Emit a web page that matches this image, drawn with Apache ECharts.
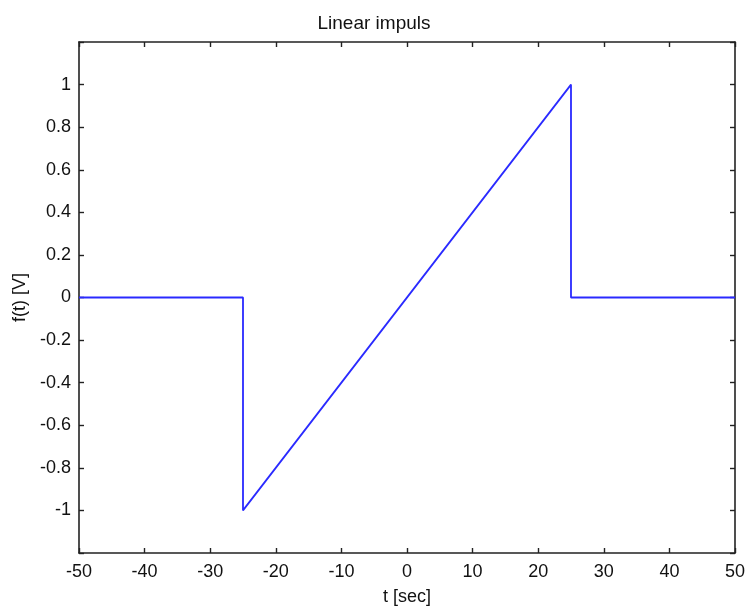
<!DOCTYPE html>
<html>
<head>
<meta charset="utf-8">
<script src="https://cdn.jsdelivr.net/npm/echarts@6/dist/echarts.min.js"></script>
<style>html,body{margin:0;padding:0;background:#fff;}#c{width:748px;height:611px;}</style>
</head>
<body>
<div id="c"></div>
<script>
const tValues = [-50, -25, -25, 25, 25, 50];
const fValues = [0, 0, -1, 1, 0, 0];
const xTicks = [-50, -40, -30, -20, -10, 0, 10, 20, 30, 40, 50];
const yTicks = [-1, -0.8, -0.6, -0.4, -0.2, 0, 0.2, 0.4, 0.6, 0.8, 1];

const FONT = 'Liberation Sans';
const chart = echarts.init(document.getElementById('c'));
const axisCommon = {
  axisLine: { show: true, onZero: false, lineStyle: { color: '#222', width: 1.6 } },
  axisTick: { show: true, inside: true, length: 5, lineStyle: { color: '#222', width: 1.4 } },
  splitLine: { show: false }
};
const xBase = Object.assign({ type: 'value', min: -50, max: 50, interval: 10 }, axisCommon);
const yBase = Object.assign({ type: 'value', min: -1.2, max: 1.2, interval: 0.2 }, axisCommon);
const fmtY = v => {
  const r = Math.round(v * 10) / 10;
  if (Math.abs(Math.abs(r) - 1.2) < 1e-6) return '';
  return yTicks.some(t => Math.abs(t - r) < 1e-6) ? String(r) : '';
};
chart.setOption({
  animation: false,
  backgroundColor: '#fff',
  title: {
    text: 'Linear impuls', left: 'center', top: 9,
    textStyle: { fontFamily: FONT, fontSize: 19, fontWeight: 'normal', color: '#111' }
  },
  grid: { left: 79, right: 12, top: 42, bottom: 51, containLabel: false },
  xAxis: [
    Object.assign({}, xBase, {
      position: 'bottom',
      name: 't [sec]', nameLocation: 'middle', nameGap: 35,
      nameTextStyle: { fontFamily: FONT, fontSize: 18, color: '#111' },
      axisLabel: { fontFamily: FONT, fontSize: 18, color: '#111', margin: 10,
        formatter: v => xTicks.includes(Math.round(v)) ? String(Math.round(v)) : '' }
    }),
    Object.assign({}, xBase, { position: 'top', axisLabel: { show: false } })
  ],
  yAxis: [
    Object.assign({}, yBase, {
      position: 'left',
      name: 'f(t) [V]', nameLocation: 'middle', nameGap: 46, nameRotate: 90,
      nameTextStyle: { fontFamily: FONT, fontSize: 18, color: '#111' },
      axisLabel: { fontFamily: FONT, fontSize: 18, color: '#111', margin: 8, formatter: fmtY }
    }),
    Object.assign({}, yBase, { position: 'right', axisLabel: { show: false } })
  ],
  series: [{
    type: 'line',
    xAxisIndex: 0, yAxisIndex: 0,
    data: tValues.map((t, i) => [t, fValues[i]]),
    showSymbol: false, symbol: 'none',
    lineStyle: { color: '#2a2aff', width: 1.8 }
  }]
});
</script>
</body>
</html>
